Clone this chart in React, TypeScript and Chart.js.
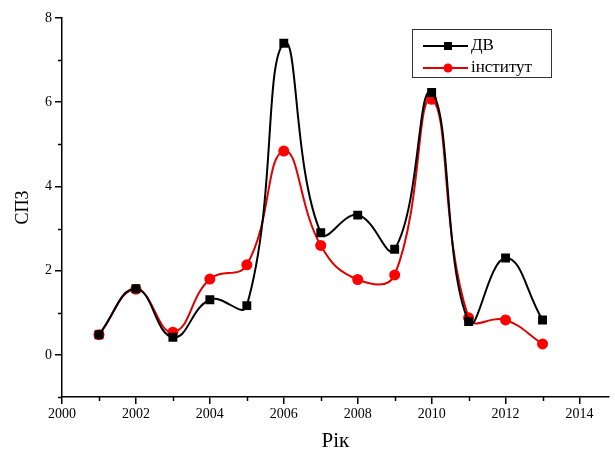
import React, { useEffect, useRef } from "react";
import { Chart, registerables } from "chart.js";

Chart.register(...registerables);

const years = [2001, 2002, 2003, 2004, 2005, 2006, 2007, 2008, 2009, 2010, 2011, 2012, 2013];
const dvValues = [0.48, 1.57, 0.42, 1.31, 1.17, 7.4, 2.9, 3.32, 2.51, 6.23, 0.79, 2.3, 0.83];
const instValues = [0.48, 1.56, 0.54, 1.8, 2.14, 4.84, 2.6, 1.79, 1.9, 6.07, 0.88, 0.83, 0.26];
const xMajorTicks = [2000, 2002, 2004, 2006, 2008, 2010, 2012, 2014];
const xMinorTicks = [2001, 2003, 2005, 2007, 2009, 2011, 2013];
const yMajorTicks = [0, 2, 4, 6, 8];
const yMinorTicks = [-1, 1, 3, 5, 7];
const seriesLabels = ["ДВ", "інститут"];
const xTitle = "Рік";
const yTitle = "СПЗ";

const FONT = "'Liberation Serif', 'Times New Roman', serif";

const extrasPlugin = {
  id: "extras",
  afterDraw(chart: any) {
    const ctx = chart.ctx;
    const xs = chart.scales.x;
    const ys = chart.scales.y;
    const area = chart.chartArea;
    ctx.save();
    ctx.strokeStyle = "#000";
    ctx.lineWidth = 1.5;
    xMinorTicks.forEach((v) => {
      const px = Math.round(xs.getPixelForValue(v)) + 0.5;
      ctx.beginPath();
      ctx.moveTo(px, area.bottom);
      ctx.lineTo(px, area.bottom + 4);
      ctx.stroke();
    });
    yMinorTicks.forEach((v) => {
      const py = Math.round(ys.getPixelForValue(v)) + 0.5;
      ctx.beginPath();
      ctx.moveTo(area.left, py);
      ctx.lineTo(area.left - 4, py);
      ctx.stroke();
    });
    const bx = 412, by = 29, bw = 139, bh = 48;
    ctx.lineWidth = 1;
    ctx.strokeStyle = "#333";
    ctx.strokeRect(bx + 0.5, by + 0.5, bw, bh);
    chart.data.datasets.forEach((ds: any, i: number) => {
      const cy = i === 0 ? 46 : 68;
      ctx.strokeStyle = ds.borderColor;
      ctx.lineWidth = 2;
      ctx.beginPath();
      ctx.moveTo(423, cy);
      ctx.lineTo(468, cy);
      ctx.stroke();
      ctx.fillStyle = ds.backgroundColor;
      if (ds.pointStyle === "rect") {
        ctx.fillRect(444, cy - 4, 8, 8);
      } else {
        ctx.beginPath();
        ctx.arc(448, cy, 4.5, 0, Math.PI * 2);
        ctx.fill();
      }
      ctx.fillStyle = "#000";
      ctx.font = `17px ${FONT}`;
      ctx.textBaseline = "middle";
      ctx.textAlign = "left";
      ctx.fillText(ds.label, 471, cy);
    });
    ctx.restore();
  },
};

export default function App() {
  const ref = useRef<HTMLCanvasElement>(null);
  useEffect(() => {
    document.body.style.margin = "0";
    const chart = new Chart(ref.current!, {
      type: "line",
      data: {
        datasets: [
          {
            label: seriesLabels[0],
            data: years.map((y, i) => ({ x: y, y: dvValues[i] })),
            borderColor: "#000000",
            backgroundColor: "#000000",
            borderWidth: 2,
            pointStyle: "rect",
            pointRadius: 6.3,
            pointBorderWidth: 0,
            tension: 0.45,
          },
          {
            label: seriesLabels[1],
            data: years.map((y, i) => ({ x: y, y: instValues[i] })),
            borderColor: "#e00000",
            backgroundColor: "#ff0000",
            borderWidth: 2,
            pointStyle: "circle",
            pointRadius: 5.5,
            pointBorderWidth: 0,
            tension: 0.45,
          },
        ],
      },
      options: {
        animation: false,
        responsive: false,
        layout: { padding: { top: 18, right: 0, bottom: 0, left: 0 } },
        plugins: { legend: { display: false }, tooltip: { enabled: false } },
        scales: {
          x: {
            type: "linear",
            min: 2000,
            max: 2014.79,
            afterBuildTicks: (s: any) => {
              s.ticks = xMajorTicks.map((v) => ({ value: v }));
            },
            afterFit: (s: any) => {
              s.height = 61;
            },
            ticks: {
              color: "#000",
              font: { family: FONT, size: 14 },
              padding: 2,
              maxRotation: 0,
              autoSkip: false,
              callback: (v: any) => String(v),
            },
            grid: { drawOnChartArea: false, drawTicks: true, tickLength: 7, color: "#000", lineWidth: 1.5 },
            border: { display: true, color: "#000", width: 1.5 },
            title: { display: true, text: xTitle, color: "#000", font: { family: FONT, size: 21 }, padding: { top: 4, bottom: 4 } },
          },
          y: {
            type: "linear",
            min: -1,
            max: 8,
            afterBuildTicks: (s: any) => {
              s.ticks = yMajorTicks.map((v) => ({ value: v }));
            },
            afterFit: (s: any) => {
              s.width = 62;
            },
            ticks: {
              color: "#000",
              font: { family: FONT, size: 14 },
              padding: 3,
              autoSkip: false,
              callback: (v: any) => String(v),
            },
            grid: { drawOnChartArea: false, drawTicks: true, tickLength: 7, color: "#000", lineWidth: 1.5 },
            border: { display: true, color: "#000", width: 1.5 },
            title: { display: true, text: yTitle, color: "#000", font: { family: FONT, size: 18 }, padding: { top: 12, bottom: 4 } },
          },
        },
      },
      plugins: [extrasPlugin],
    });
    return () => chart.destroy();
  }, []);
  return (
    <div style={{ position: "absolute", left: 0, top: 0, width: 615, height: 458 }}>
      <canvas ref={ref} width={615} height={458} style={{ width: 615, height: 458, display: "block" }} />
    </div>
  );
}
